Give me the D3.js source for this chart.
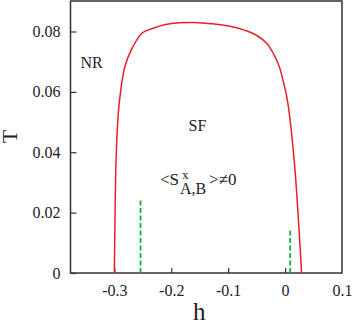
<!DOCTYPE html>
<html>
<head>
<meta charset="utf-8">
<script src="https://cdn.jsdelivr.net/npm/d3@7"></script>
<style>
  body { margin: 0; background: #fff; }
  svg text { font-family: "Liberation Serif", "DejaVu Serif", serif; fill: #222; }
</style>
</head>
<body>
<div id="chart-area"></div>
<script>
// canvas size
const svgWidth = 354,
      svgHeight = 323;

const margin = { left: 70.5, right: 12, top: 1, bottom: 50 };

var chartWidth = svgWidth - margin.left - margin.right,
    chartHeight = svgHeight - margin.top - margin.bottom;

// data
var xTicks = [-0.3, -0.2, -0.1, 0, 0.1];
var yTicks = [0, 0.02, 0.04, 0.06, 0.08];
var xTickLabels = ["-0.3", "-0.2", "-0.1", "0", "0.1"];
var yTickLabels = ["0", "0.02", "0.04", "0.06", "0.08"];

// phase boundary (red)
var boundaryH = [-0.300, -0.299, -0.297, -0.294, -0.291, -0.282, -0.270, -0.251, -0.233, -0.210, -0.186, -0.160, -0.130, -0.093, -0.058, -0.033, -0.020, -0.010, -0.002, 0.004, 0.016, 0.029];
var boundaryT = [0.000, 0.015, 0.037, 0.050, 0.057, 0.068, 0.074, 0.0795, 0.081, 0.0823, 0.0829, 0.0830, 0.0826, 0.0816, 0.0795, 0.0762, 0.0725, 0.0682, 0.0625, 0.0573, 0.0373, 0.000];

// green dashed markers
var markerH = [-0.254, 0.009];
var markerTop = [0.0248, 0.0149];

var svg = d3.select("#chart-area").append("svg")
    .attr("width", svgWidth)
    .attr("height", svgHeight);

var g = svg.append("g")
    .attr("transform", "translate(" + margin.left + "," + margin.top + ")");

// Scales
var xScale = d3.scaleLinear().domain([-0.377, 0.1]).range([0, chartWidth]);
var yScale = d3.scaleLinear().domain([0, 0.0901]).range([chartHeight, 0]);

// Axes (ticks pointing inward)
var xAxisCall = d3.axisBottom(xScale)
    .tickValues(xTicks)
    .tickSizeInner(-5)
    .tickSizeOuter(0)
    .tickPadding(12)
    .tickFormat(function(d, i){ return xTickLabels[i]; });
var xAxis = g.append("g")
    .attr("class", "x-axis")
    .attr("transform", "translate(0," + chartHeight + ")")
    .call(xAxisCall);

var yAxisCall = d3.axisLeft(yScale)
    .tickValues(yTicks)
    .tickSizeInner(-6)
    .tickSizeOuter(0)
    .tickPadding(10)
    .tickFormat(function(d, i){ return yTickLabels[i]; });
var yAxis = g.append("g")
    .attr("class", "y-axis")
    .call(yAxisCall);

[xAxis, yAxis].forEach(function(ax){
    ax.select(".domain").remove();
    ax.selectAll(".tick line").attr("stroke", "#333").attr("stroke-width", 1.2);
    ax.selectAll(".tick text").attr("font-size", "16px").attr("fill", "#222")
        .style("font-family", "'Liberation Serif', serif");
});
xAxis.selectAll(".tick").filter(function(d){ return d === 0.1; }).select("line").remove();

// frame
g.append("rect")
    .attr("x", 0).attr("y", 0)
    .attr("width", chartWidth).attr("height", chartHeight)
    .attr("fill", "none")
    .attr("stroke", "#333")
    .attr("stroke-width", 1.5);

// Axes labels
g.append("text")
    .attr("x", xScale(-0.151))
    .attr("y", chartHeight + 47)
    .attr("font-size", "25px")
    .attr("text-anchor", "middle")
    .text("h");

g.append("text")
    .attr("transform", "rotate(-90)")
    .attr("x", -yScale(0.0452))
    .attr("y", -margin.left + 17)
    .attr("font-size", "22px")
    .attr("text-anchor", "middle")
    .text("T");

// red boundary line
var boundary = boundaryH.map(function(h, i){ return { h: h, t: boundaryT[i] }; });
var line = d3.line()
    .curve(d3.curveCatmullRom)
    .x(function(d){ return xScale(d.h); })
    .y(function(d){ return yScale(d.t); });

g.append("path")
    .attr("class", "line")
    .attr("fill", "none")
    .attr("stroke", "#e8202a")
    .attr("stroke-width", 1.5)
    .attr("d", line(boundary));

// green dashed
g.selectAll(".marker")
    .data(markerH)
    .enter().append("line")
    .attr("class", "marker")
    .attr("x1", function(d){ return xScale(d); })
    .attr("x2", function(d){ return xScale(d); })
    .attr("y1", yScale(0))
    .attr("y2", function(d, i){ return yScale(markerTop[i]); })
    .attr("stroke", "#10b040")
    .attr("stroke-width", 1.8)
    .attr("stroke-dasharray", "5,2.5");

// region labels
g.append("text")
    .attr("x", 10)
    .attr("y", 67)
    .attr("font-size", "16px")
    .text("NR");

g.append("text")
    .attr("x", 118)
    .attr("y", 130)
    .attr("font-size", "16px")
    .text("SF");

var lbl = g.append("text")
    .attr("font-size", "17px");
lbl.append("tspan").attr("x", 89.5).attr("y", 184).text("<S");
lbl.append("tspan").attr("x", 111.5).attr("y", 178).attr("font-size", "13px").text("x");
lbl.append("tspan").attr("x", 109.5).attr("y", 192.5).attr("font-size", "16px").text("A,B");
lbl.append("tspan").attr("x", 138.5).attr("y", 184).text(">≠0");
</script>
</body>
</html>
